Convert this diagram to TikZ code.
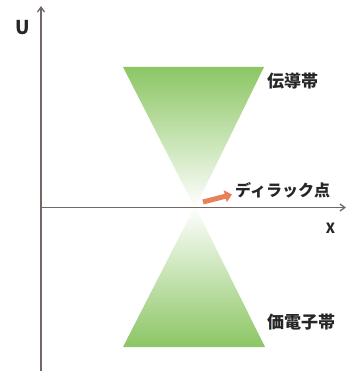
\documentclass[tikz,border=0pt]{standalone}
\usepackage{fontspec}
\setmainfont{Noto Sans CJK JP}
\usetikzlibrary{arrows.meta}
\definecolor{bandgreen}{RGB}{140,198,100}
\definecolor{bandmid}{RGB}{178,216,150}
\definecolor{axisgray}{RGB}{115,105,100}
\definecolor{dirac}{RGB}{232,128,90}
\tikzset{
  axisline/.style={draw=axisgray, line width=1.3pt, -{Straight Barb[length=5pt,width=7pt]}},
  lbl/.style={inner sep=0pt, text=black!85, font=\bfseries},
}
\begin{document}
\begin{tikzpicture}[x=1pt,y=-1pt]
\useasboundingbox (0,0) rectangle (345,371);
% bands
\shade[top color=bandgreen, middle color=bandmid, bottom color=white] (123,67) -- (264,67) -- (195,208) -- cycle;
\shade[top color=white, middle color=bandmid, bottom color=bandgreen] (195,206) -- (265,347) -- (123,347) -- cycle;
% axes
\coordinate (o) at (41,207.5);
\coordinate (ytop) at (41,6);
\coordinate (ybot) at (41,371);
\coordinate (xend) at (346,207.5);
\draw[axisline] (ybot) -- (ytop);
\draw[axisline] (o) -- (xend);
% labels
\node[lbl] (U) at (23,28) {\fontsize{19}{19}\selectfont U};
\node[lbl] (X) at (330.5,228) {\fontsize{14}{14}\selectfont X};
\node[lbl, anchor=west] (cb) at (267,81) {\fontsize{17}{17}\selectfont 伝導帯};
\node[lbl, anchor=west] (vb) at (267,322.5) {\fontsize{17}{17}\selectfont 価電子帯};
\node[lbl, anchor=west] (dp) at (235,190) {\fontsize{16}{16}\selectfont ディラック点};
% Dirac arrow
\coordinate (atail) at (203,202);
\coordinate (ahead) at (232,194.5);
\draw[dirac, line width=5pt, -{Triangle[length=7pt,width=12pt]}] (atail) -- (ahead);
\end{tikzpicture}
\end{document}
